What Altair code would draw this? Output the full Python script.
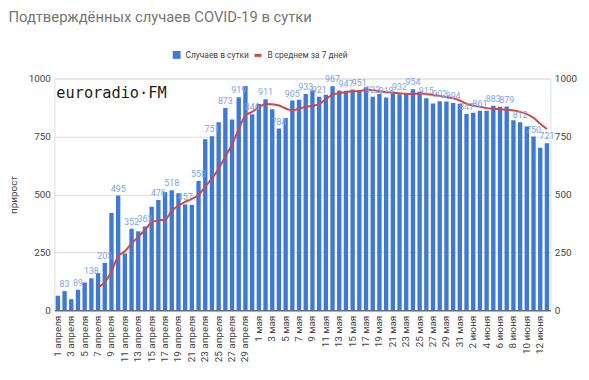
import altair as alt
import pandas as pd

april = [f"{d} апреля" for d in range(1, 31)]
may = [f"{d} мая" for d in range(1, 32)]
june = [f"{d} июня" for d in range(1, 14)]
days = april + may + june

cases = [63, 83, 48, 89, 120, 138, 161, 205, 420, 495,
         245, 352, 341, 362, 447, 476, 510, 518, 505, 457,
         455, 558, 738, 751, 812, 873, 823, 919, 968, 846,
         890, 911, 868, 784, 830, 905, 909, 933, 948, 921,
         930, 967, 949, 947, 953, 951, 962, 922, 933, 918,
         938, 932, 933, 954, 943, 915, 892, 902, 901, 894,
         891, 847, 852, 861, 861, 883, 878, 879, 820, 812,
         793, 750, 701, 721]

y_ticks = [0, 250, 500, 750, 1000]
series_bar = "Случаев в сутки"
series_avg = "В среднем за 7 дней"
title_text = "Подтверждённых случаев COVID-19 в сутки"
logo_text = ["euroradio·FM"]

BLUE = "#3d79dc"
RED = "#d6473b"
LABEL_BLUE = "#79a3ea"

df = pd.DataFrame({
    "idx": list(range(len(days))),
    "day": days,
    "cases": cases,
    "show": [i % 2 == 1 for i in range(len(days))],
    "s_bar": [series_bar] * len(days),
    "s_avg": [series_avg] * len(days),
})

x_enc = alt.X(
    "day:N", sort=days,
    scale=alt.Scale(paddingInner=0.35, paddingOuter=0.2),
    axis=alt.Axis(values=days[::2], labelAngle=270, title=None, ticks=False,
                  domainColor="#333333", labelFontSize=10, labelColor="#444444",
                  labelPadding=5, labelFont="Roboto"),
)
y_scale = alt.Scale(domain=[0, 1000])

base = alt.Chart(df)

bars = base.mark_bar().encode(
    x=x_enc,
    y=alt.Y("cases:Q", scale=y_scale,
            axis=alt.Axis(values=y_ticks, format="d", title="прирост", titleFontSize=10,
                          titleFontWeight="normal", titleColor="#444444",
                          titleFont="Roboto", labelFont="Roboto",
                          labelColor="#444444", labelFontSize=10, ticks=False,
                          domain=False, gridColor="#dddddd", labelPadding=4,
                          titlePadding=10)),
    fill=alt.Fill("s_bar:N",
                  scale=alt.Scale(domain=[series_bar], range=[BLUE]),
                  legend=alt.Legend(title=None, orient="none", legendX=119, legendY=-29,
                                    symbolType="square", symbolSize=64,
                                    labelFontSize=8.5, labelColor="#444444",
                                    labelFont="Roboto", labelOffset=4)),
)

line = base.transform_window(
    avg="mean(cases)", cnt="count()", frame=[-6, 0], sort=[alt.SortField("idx")]
).transform_filter("datum.cnt == 7").mark_line(strokeWidth=2, interpolate="monotone").encode(
    x=alt.X("day:N", sort=days),
    y=alt.Y("avg:Q", scale=y_scale,
            axis=alt.Axis(values=y_ticks, format="d", orient="right", title=None, grid=False,
                          ticks=False, domain=False, labelColor="#444444",
                          labelFontSize=10, labelPadding=4, labelFont="Roboto")),
    stroke=alt.Stroke("s_avg:N",
                      scale=alt.Scale(domain=[series_avg], range=[RED]),
                      legend=alt.Legend(title=None, orient="none", legendX=201, legendY=-29,
                                        symbolType="stroke", symbolStrokeWidth=3,
                                        symbolSize=50, labelFontSize=8.5,
                                        labelColor="#444444", labelFont="Roboto",
                                        labelOffset=4)),
)

labels = base.transform_filter("datum.show").mark_text(
    dy=-7, fontSize=9, color=LABEL_BLUE, font="Roboto"
).encode(
    x=alt.X("day:N", sort=days),
    y=alt.Y("cases:Q", scale=y_scale, axis=None),
    text="cases:Q",
)

logo = alt.Chart(pd.DataFrame({"t": logo_text})).mark_text(
    align="left", baseline="middle", font="DejaVu Sans Mono", fontSize=15.5,
    color="#222222"
).encode(x=alt.value(2), y=alt.value(15), text="t:N")

chart = alt.layer(bars, line, labels, logo).resolve_axis(y="independent").properties(
    width=503, height=235,
    autosize=alt.AutoSizeParams(type="none"),
    padding={"left": 47, "top": 69, "right": 31, "bottom": 60},
    title=alt.TitleParams(title_text, anchor="start", fontSize=15, fontWeight="normal",
                          color="#757575", font="Roboto", offset=25),
).configure_view(strokeWidth=0).configure(background="white")

chart.save("out.html", embed_options={"renderer": "svg", "actions": False})
